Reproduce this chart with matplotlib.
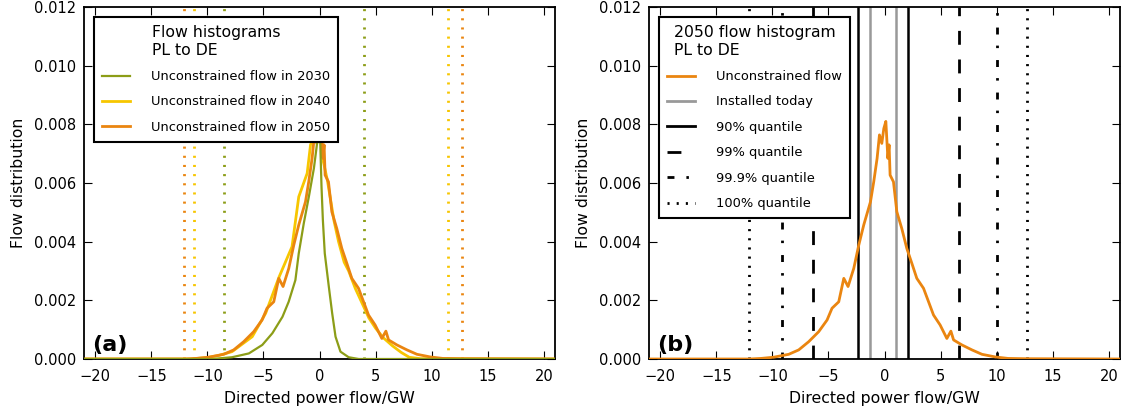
import matplotlib
matplotlib.use("Agg")
import matplotlib.pyplot as plt

# --- histogram traces read as (flow in GW, density) pairs ---
x_2030 = [-21, -9.5, -9.0, -7.8, -6.3, -5.1, -4.2, -3.3, -2.75, -2.15, -1.85, -1.4,
          -0.95, -0.5, -0.1, 0.05, 0.18, 0.3, 0.47, 0.83, 1.13, 1.43, 1.87, 2.6, 3.5, 21]
y_2030 = [0, 0, 0.00002, 0.00006, 0.00019, 0.00048, 0.00088, 0.00144, 0.00195, 0.00269,
          0.0036, 0.00463, 0.00553, 0.0065, 0.0077, 0.0076, 0.00587, 0.00474, 0.0036,
          0.00247, 0.00156, 0.00076, 0.00025, 0.00006, 0, 0]

x_2040 = [-21, -11.5, -10, -9, -7.8, -6.0, -4.8, -3.6, -2.45, -1.85, -1.1, -0.8, -0.3,
          0.1, 0.3, 0.7, 1.0, 1.3, 1.7, 2.2, 2.6, 3.2, 3.8, 4.4, 5.0, 5.7, 6.5, 7.3,
          8.0, 9, 21]
y_2040 = [0, 0, 0.00005, 0.00012, 0.00025, 0.00076, 0.00156, 0.0028, 0.00383, 0.00553,
          0.00633, 0.0073, 0.0078, 0.0079, 0.0068, 0.0061, 0.0054, 0.0047, 0.004,
          0.0033, 0.003, 0.0024, 0.0019, 0.0014, 0.00105, 0.00072, 0.00045, 0.00022,
          0.00006, 0.00001, 0]

x_2050 = [-21, -12, -11, -9.9, -8.54, -7.65, -6.76, -5.87, -5.12, -4.68, -4.08, -3.63,
          -3.25, -2.74, -2.29, -1.85, -1.25, -0.96, -0.66, -0.45, -0.24, -0.06, 0.12,
          0.3, 0.41, 0.5, 0.8, 1.1, 1.54, 1.99, 2.44, 2.88, 3.48, 3.93, 4.37, 4.96,
          5.56, 5.92, 6.16, 6.9, 7.8, 8.69, 9.88, 11, 12.5, 21]
y_2050 = [0, 0, 0.00002, 0.00006, 0.00016, 0.00031, 0.00059, 0.00093, 0.00133, 0.00173,
          0.00195, 0.00275, 0.00247, 0.00309, 0.00389, 0.00457, 0.00536, 0.00604,
          0.00684, 0.00764, 0.00735, 0.00786, 0.0081, 0.00684, 0.0073, 0.00627,
          0.00604, 0.00502, 0.00445, 0.00377, 0.00326, 0.00275, 0.00241, 0.00195,
          0.0015, 0.00116, 0.0007, 0.00095, 0.00065, 0.00048, 0.00031, 0.00016,
          0.00007, 0.00002, 0.00001, 0]

# 100% quantile (min/max flow) per year
q100_2030 = [-8.55, 4.0]
q100_2040 = [-11.2, 11.45]
q100_2050 = [-12.05, 12.7]

# 2050 quantiles and today's capacity
installed_today = [-1.3, 1.05]
q90_2050 = [-2.4, 2.1]
q99_2050 = [-6.35, 6.65]
q999_2050 = [-9.1, 10.0]

c2030 = '#8c9d17'
c2040 = '#f7c600'
c2050 = '#ea8510'

plt.rcParams['font.family'] = 'DejaVu Sans'
plt.rcParams['xtick.direction'] = 'in'
plt.rcParams['ytick.direction'] = 'in'
plt.rcParams['xtick.top'] = True
plt.rcParams['ytick.right'] = True
plt.rcParams['xtick.major.size'] = 6
plt.rcParams['ytick.major.size'] = 6
plt.rcParams['xtick.major.pad'] = 7
plt.rcParams['ytick.major.pad'] = 5.5
plt.rcParams['axes.linewidth'] = 1.3
plt.rcParams['xtick.labelsize'] = 10.5
plt.rcParams['ytick.labelsize'] = 10.5

fig = plt.figure(figsize=(11.31, 4.12), dpi=100)
ax_a = fig.add_axes([84 / 1131, 1 - 359 / 412, 471 / 1131, 352 / 412])
ax_b = fig.add_axes([649 / 1131, 1 - 359 / 412, 471 / 1131, 352 / 412])

dotted = (0, (0.75, 2.55))
dashed = (0, (5.0, 5.3))
dashdot = (0, (2.5, 4.3, 0.9, 4.0))

# (a) three years of unconstrained flow
ax_a.plot(x_2030, y_2030, color=c2030, lw=1.6, zorder=4, label='Unconstrained flow in 2030')
ax_a.plot(x_2040, y_2040, color=c2040, lw=2.0, zorder=2, label='Unconstrained flow in 2040')
ax_a.plot(x_2050, y_2050, color=c2050, lw=2.0, zorder=3, label='Unconstrained flow in 2050')
for q, c in [(q100_2030, c2030), (q100_2040, c2040), (q100_2050, c2050)]:
    for v in q:
        ax_a.axvline(v, color=c, lw=2, ls=dotted, zorder=1)

# (b) 2050 with quantile markers
ax_b.plot(x_2050, y_2050, color=c2050, lw=2.0, label='Unconstrained flow', zorder=3)
ax_b.plot([], [], color='#999999', lw=2, label='Installed today')
ax_b.plot([], [], color='k', lw=2, label='90% quantile')
ax_b.plot([], [], color='k', lw=2, ls=dashed, label='99% quantile')
ax_b.plot([], [], color='k', lw=2, ls=dashdot, label='99.9% quantile')
ax_b.plot([], [], color='k', lw=2, ls=dotted, label='100% quantile')
for v in installed_today:
    ax_b.axvline(v, color='#999999', lw=1.8, zorder=2)
for v in q90_2050:
    ax_b.axvline(v, color='k', lw=1.8, zorder=2)
for v in q99_2050:
    ax_b.axvline(v, color='k', lw=2, ls=dashed, zorder=2)
for v in q999_2050:
    ax_b.axvline(v, color='k', lw=2, ls=dashdot, zorder=2)
for v in q100_2050:
    ax_b.axvline(v, color='k', lw=2, ls=dotted, zorder=2)

titles = ['Flow histograms\nPL to DE', '2050 flow histogram\nPL to DE']
for ax, tag, title in zip([ax_a, ax_b], ['(a)', '(b)'], titles):
    ax.set_xlim(-21, 21)
    ax.set_ylim(0, 0.012)
    ax.set_xticks(range(-20, 21, 5))
    ax.set_yticks([0, 0.002, 0.004, 0.006, 0.008, 0.010, 0.012])
    ax.yaxis.set_major_formatter(matplotlib.ticker.FormatStrFormatter('%.3f'))
    ax.set_xlabel('Directed power flow/GW', fontsize=11.3, labelpad=5)
    ax.set_ylabel('Flow distribution', fontsize=11.3, labelpad=6)
    ax.text(0.017, 0.012, tag, transform=ax.transAxes, fontsize=16,
            fontweight='bold', va='bottom', ha='left', zorder=6)
    leg = ax.legend(loc='upper left', title=title, fontsize=9.4, title_fontsize=11.3,
                    fancybox=False, framealpha=1, edgecolor='k', borderaxespad=0.8,
                    handlelength=2.15, handletextpad=1.6, labelspacing=0.95,
                    borderpad=0.6)
    leg.get_frame().set_linewidth(1.5)
    leg.set_zorder(5)

fig.savefig('out.png', dpi=100)
